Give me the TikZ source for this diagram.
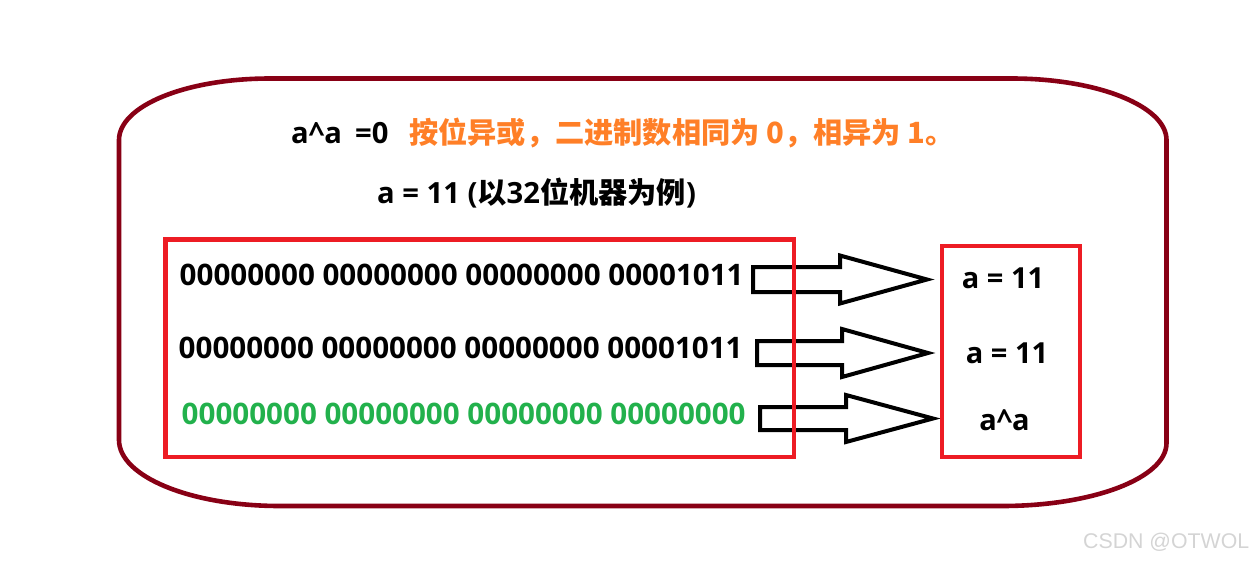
\documentclass[tikz,border=0pt]{standalone}
\usepackage{fontspec}
\setmainfont{Open Sans}
\newfontfamily\cjk{Noto Sans CJK SC}
\newfontfamily\wmfont{Liberation Sans}
\definecolor{outerred}{HTML}{880015}
\definecolor{boxred}{HTML}{ED1C24}
\definecolor{txtorange}{HTML}{FF7F27}
\definecolor{txtgreen}{HTML}{22B14C}
\tikzset{
  outerline/.style={draw=outerred,line width=4.6pt},
  redbox/.style={draw=boxred,line width=4.4pt,inner sep=0pt},
  blockarrow/.style={draw=black,line width=4pt,line join=miter},
  bintext/.style={anchor=base west,inner sep=0pt,font=\fontsize{29.6}{32}\selectfont\bfseries},
  toptext/.style={anchor=base west,inner sep=0pt,font=\fontsize{29.2}{31}\selectfont\bfseries},
  lbltext/.style={anchor=base,inner sep=0pt,font=\fontsize{29}{31}\selectfont\bfseries},
  wmtext/.style={anchor=base west,inner sep=0pt,text=black!17,font=\fontsize{21.3}{23}\selectfont\wmfont}
}
\begin{document}
\begin{tikzpicture}[x=1pt,y=-1pt]
\useasboundingbox (0,0) rectangle (1253,563);
% outer rounded frame
\draw[outerline] (270,78.5) -- (1012,78.5)
  .. controls (1097,78.5) and (1166.5,106) .. (1166.5,140)
  -- (1166.5,443)
  .. controls (1166.5,478) and (1093,506) .. (1002,506)
  -- (280,506)
  .. controls (190.5,506) and (119,476.5) .. (119,440)
  -- (119,140)
  .. controls (119,105.8) and (186,78.5) .. (270,78.5) -- cycle;
% texts at top
\node[toptext] (xr) at (291,143) {a\textasciicircum a\hspace{0.45em}=0};
\node[toptext,text=txtorange] (rule) at (409,143) {\cjk 按位异或，二进制数相同为 0，相异为 1。};
\node[toptext] (aval) at (377,203) {a = 11 (\cjk 以\normalfont\bfseries 32\cjk 位机器为例\normalfont\bfseries )};
% block arrows
\draw[blockarrow] (753,267) -- (840,267) -- (840,255.5) -- (927,279.5) -- (840,303.5) -- (840,292) -- (753,292) -- cycle;
\draw[blockarrow] (757,341) -- (842,341) -- (842,329) -- (928,353) -- (842,377) -- (842,365) -- (757,365) -- cycle;
\draw[blockarrow] (760,407) -- (846,407) -- (846,395) -- (933,418.5) -- (846,442) -- (846,430) -- (760,430) -- cycle;
% boxes
\node[redbox,minimum width=628.5pt,minimum height=217.5pt] (bits) at (479.75,348.25) {};
\node[redbox,minimum width=138pt,minimum height=211pt] (vals) at (1011,351.5) {};
% binary rows
\node[bintext] (r1) at (179.5,285) {00000000 00000000 00000000 00001011};
\node[bintext] (r2) at (178.5,358) {00000000 00000000 00000000 00001011};
\node[bintext,text=txtgreen] (r3) at (181.5,424) {00000000 00000000 00000000 00000000};
% right labels
\node[lbltext] (l1) at (1003,288) {a = 11};
\node[lbltext] (l2) at (1007,363) {a = 11};
\node[lbltext] (l3) at (1004.5,430) {a\textasciicircum a};
% watermark
\node[wmtext] (wm) at (1083,548) {CSDN @OTWOL};
\end{tikzpicture}
\end{document}
